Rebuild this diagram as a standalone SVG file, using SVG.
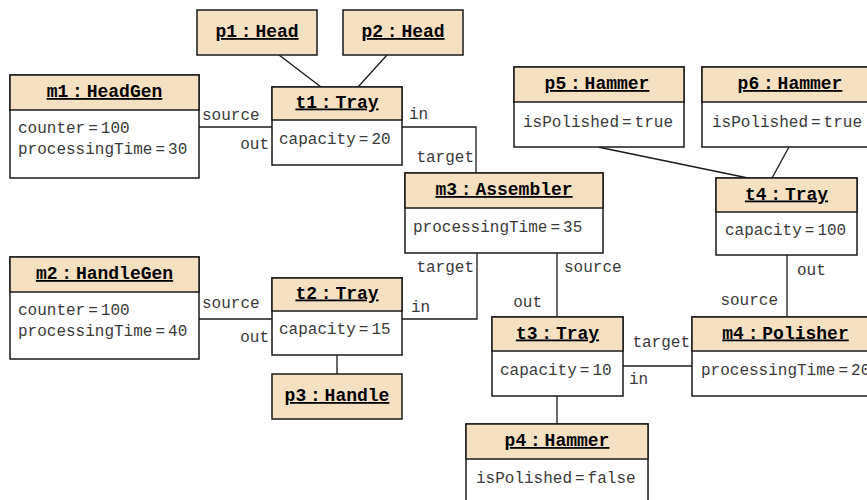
<svg xmlns="http://www.w3.org/2000/svg" width="867" height="500" viewBox="0 0 867 500">
<style>
.box{fill:#ffffff;stroke:#1a1a1a;stroke-width:1.5}
.hd{fill:#f5e1c2;stroke:#1a1a1a;stroke-width:1.5}
.t{font-family:"Liberation Mono","Courier New",monospace;font-weight:bold;font-size:18px;word-spacing:-7px;text-anchor:middle;fill:#000;text-decoration:underline}
.a{font-family:"Liberation Mono","Courier New",monospace;font-size:16px;word-spacing:-6.6px;fill:#3a3a3a}
.l{font-family:"Liberation Mono","Courier New",monospace;font-size:16px;fill:#3a3a3a}
.e{text-anchor:end}
.c{fill:none;stroke:#1a1a1a;stroke-width:1.3}
</style>
<g id="connectors">
<line class="c" x1="279" y1="55" x2="321" y2="87"/>
<line class="c" x1="387" y1="55" x2="358" y2="87"/>
<line class="c" x1="199" y1="127" x2="272" y2="127"/>
<polyline class="c" points="402,127 476,127 476,173"/>
<line class="c" x1="199" y1="319" x2="272" y2="319"/>
<polyline class="c" points="402,319 477,319 477,253"/>
<line class="c" x1="337" y1="355" x2="337" y2="374"/>
<line class="c" x1="557" y1="253" x2="557" y2="317"/>
<line class="c" x1="623" y1="366" x2="692" y2="366"/>
<line class="c" x1="557" y1="396" x2="557" y2="424"/>
<line class="c" x1="787" y1="255" x2="787" y2="317"/>
<line class="c" x1="598" y1="147" x2="748" y2="178"/>
<line class="c" x1="789" y1="147" x2="772" y2="178"/>
<text class="l" x="202" y="120">source</text>
<text class="l e" x="269" y="149">out</text>
<text class="l" x="409" y="119">in</text>
<text class="l e" x="474" y="162">target</text>
<text class="l" x="202" y="308">source</text>
<text class="l e" x="269" y="342">out</text>
<text class="l" x="411" y="312">in</text>
<text class="l e" x="474" y="272">target</text>
<text class="l" x="564" y="272">source</text>
<text class="l e" x="542" y="307">out</text>
<text class="l e" x="690" y="347">target</text>
<text class="l" x="629" y="384">in</text>
<text class="l" x="797" y="275">out</text>
<text class="l e" x="778" y="305">source</text>
</g>
<g id="p1">
<rect class="hd" x="197" y="10" width="120" height="45"/>
<text class="t" x="257" y="37">p1 : Head</text>
</g>
<g id="p2">
<rect class="hd" x="343" y="10" width="120" height="45"/>
<text class="t" x="403" y="37">p2 : Head</text>
</g>
<g id="m1">
<rect class="box" x="10" y="75" width="189" height="103"/>
<rect class="hd" x="10" y="75" width="189" height="35"/>
<text class="t" x="104.5" y="97">m1 : HeadGen</text>
<text class="a" x="18" y="133">counter = 100</text>
<text class="a" x="18" y="154">processingTime = 30</text>
</g>
<g id="t1">
<rect class="box" x="272" y="87" width="130" height="78"/>
<rect class="hd" x="272" y="87" width="130" height="33"/>
<text class="t" x="337" y="107.5">t1 : Tray</text>
<text class="a" x="279" y="144">capacity = 20</text>
</g>
<g id="m2">
<rect class="box" x="10" y="257" width="189" height="102"/>
<rect class="hd" x="10" y="257" width="189" height="35"/>
<text class="t" x="104.5" y="279">m2 : HandleGen</text>
<text class="a" x="18" y="315">counter = 100</text>
<text class="a" x="18" y="336">processingTime = 40</text>
</g>
<g id="t2">
<rect class="box" x="272" y="278" width="130" height="77"/>
<rect class="hd" x="272" y="278" width="130" height="33"/>
<text class="t" x="337" y="298.5">t2 : Tray</text>
<text class="a" x="279" y="334">capacity = 15</text>
</g>
<g id="p3">
<rect class="hd" x="272" y="374" width="130" height="45"/>
<text class="t" x="337" y="401">p3 : Handle</text>
</g>
<g id="m3">
<rect class="box" x="405" y="173" width="198" height="80"/>
<rect class="hd" x="405" y="173" width="198" height="35"/>
<text class="t" x="504" y="195">m3 : Assembler</text>
<text class="a" x="413" y="232">processingTime = 35</text>
</g>
<g id="t3">
<rect class="box" x="492" y="317" width="131" height="79"/>
<rect class="hd" x="492" y="317" width="131" height="34"/>
<text class="t" x="557.5" y="338.5">t3 : Tray</text>
<text class="a" x="500" y="375">capacity = 10</text>
</g>
<g id="m4">
<rect class="box" x="692" y="317" width="187" height="79"/>
<rect class="hd" x="692" y="317" width="187" height="34"/>
<text class="t" x="785.5" y="338.5">m4 : Polisher</text>
<text class="a" x="701" y="375">processingTime = 20</text>
</g>
<g id="p4">
<rect class="box" x="466" y="424" width="182" height="90"/>
<rect class="hd" x="466" y="424" width="182" height="35"/>
<text class="t" x="557" y="446">p4 : Hammer</text>
<text class="a" x="476" y="483">isPolished = false</text>
</g>
<g id="p5">
<rect class="box" x="514" y="67" width="170" height="80"/>
<rect class="hd" x="514" y="67" width="170" height="35"/>
<text class="t" x="597" y="89">p5 : Hammer</text>
<text class="a" x="523" y="127">isPolished = true</text>
</g>
<g id="p6">
<rect class="box" x="702" y="67" width="176" height="80"/>
<rect class="hd" x="702" y="67" width="176" height="35"/>
<text class="t" x="790" y="89">p6 : Hammer</text>
<text class="a" x="712" y="127">isPolished = true</text>
</g>
<g id="t4">
<rect class="box" x="716" y="178" width="141" height="77"/>
<rect class="hd" x="716" y="178" width="141" height="34"/>
<text class="t" x="786.5" y="199.5">t4 : Tray</text>
<text class="a" x="725" y="235">capacity = 100</text>
</g>
</svg>
